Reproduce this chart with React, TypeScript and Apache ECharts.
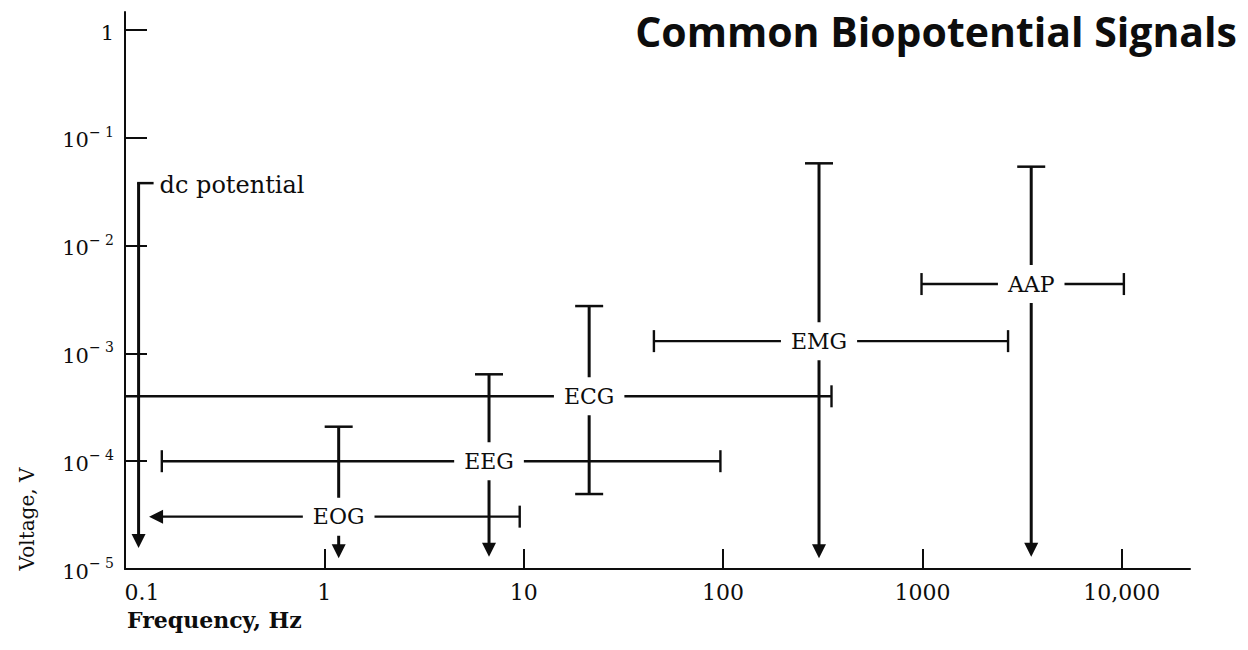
import React, { useEffect, useRef } from "react";
import * as echarts from "echarts";

// ---- data ----
const signalNames = ["dc potential", "EOG", "EEG", "ECG", "EMG", "AAP"];
// frequency (Hz) where the vertical voltage range is drawn
const freqCenter = [0.117, 1.18, 6.7, 21.3, 303, 3515];
// frequency range (Hz)
const freqLow = [0.117, 0.132, 0.153, 0.1, 45, 990];
const freqHigh = [0.117, 9.55, 97, 350, 2690, 10250];
// voltage (V) where the horizontal frequency range is drawn
const voltCenter = [0.038, 3.06e-5, 1.0e-4, 4.0e-4, 1.3e-3, 4.4e-3];
// voltage range (V)
const voltLow = [1.57e-5, 1.26e-5, 1.3e-5, 4.96e-5, 1.26e-5, 1.3e-5];
const voltHigh = [0.038, 2.09e-4, 6.4e-4, 2.75e-3, 0.058, 0.054];
// how each range ends: "arrow" = open-ended, "cap" = bounded, "none"
const voltLowEnd = ["arrow", "arrow", "arrow", "cap", "arrow", "arrow"];
const freqLowEnd = ["none", "arrow", "cap", "none", "cap", "cap"];

const xTickValues = [0.1, 1, 10, 100, 1000, 10000];
const xTickLabels = ["0.1", "1", "10", "100", "1000", "10,000"];
const yTickValues = [1e-5, 1e-4, 1e-3, 1e-2, 1e-1, 1];
const yTickExponents = [-5, -4, -3, -2, -1, 0];

const X_MIN = 0.1;
const X_MAX = 22000;
const Y_MIN = 1e-5;
const Y_MAX = 1.47;

const SERIF = "DejaVu Serif";
const INK = "#0d0d0d";

export default function App() {
  const ref = useRef<HTMLDivElement>(null);

  useEffect(() => {
    if (!ref.current) return;
    const chart = echarts.init(ref.current, null, { renderer: "svg" });

    const data = signalNames.map((_, i) => [
      freqCenter[i],
      voltCenter[i],
      freqLow[i],
      freqHigh[i],
      voltLow[i],
      voltHigh[i],
    ]);

    const renderItem = (params: any, api: any) => {
      const i = params.dataIndex;
      const fc = api.value(0);
      const vc = api.value(1);
      const [cx, cy] = api.coord([fc, vc]);
      const xL = api.coord([api.value(2), vc])[0];
      const xR = api.coord([api.value(3), vc])[0];
      const yB = api.coord([fc, api.value(4)])[1];
      const yT = api.coord([fc, api.value(5)])[1];
      const children: any[] = [];
      const AH = 14; // arrow head length
      const AW = 7; // arrow half width
      const lowEnd = voltLowEnd[i];

      // vertical (voltage) range
      children.push({
        type: "line",
        shape: { x1: cx, y1: yT, x2: cx, y2: lowEnd === "arrow" ? yB - AH + 2 : yB },
        style: { stroke: INK, lineWidth: 3 },
      });
      if (lowEnd === "arrow") {
        children.push({
          type: "polygon",
          shape: { points: [[cx - AW, yB - AH], [cx + AW, yB - AH], [cx, yB]] },
          style: { fill: INK },
        });
      } else {
        children.push({
          type: "line",
          shape: { x1: cx - 14, y1: yB, x2: cx + 14, y2: yB },
          style: { stroke: INK, lineWidth: 2.5 },
        });
      }

      if (i === 0) {
        // dc potential: hook at top plus label
        children.push({
          type: "line",
          shape: { x1: cx - 1.5, y1: yT, x2: cx + 15, y2: yT },
          style: { stroke: INK, lineWidth: 2.5 },
        });
        children.push({
          type: "text",
          x: cx + 21,
          y: yT + 2,
          style: {
            text: signalNames[i],
            fontFamily: SERIF,
            fontSize: 24,
            fill: INK,
            align: "left",
            verticalAlign: "middle",
          },
        });
        return { type: "group", children };
      }

      // top cap
      children.push({
        type: "line",
        shape: { x1: cx - 14, y1: yT, x2: cx + 14, y2: yT },
        style: { stroke: INK, lineWidth: 2.5 },
      });

      // horizontal (frequency) range
      const fEnd = freqLowEnd[i];
      children.push({
        type: "line",
        shape: { x1: fEnd === "arrow" ? xL + AH - 2 : xL, y1: cy, x2: xR, y2: cy },
        style: { stroke: INK, lineWidth: 2.4 },
      });
      if (fEnd === "arrow") {
        children.push({
          type: "polygon",
          shape: { points: [[xL, cy], [xL + AH, cy - AW], [xL + AH, cy + AW]] },
          style: { fill: INK },
        });
      } else if (fEnd === "cap") {
        children.push({
          type: "line",
          shape: { x1: xL, y1: cy - 11, x2: xL, y2: cy + 11 },
          style: { stroke: INK, lineWidth: 2.4 },
        });
      }
      children.push({
        type: "line",
        shape: { x1: xR, y1: cy - 11, x2: xR, y2: cy + 11 },
        style: { stroke: INK, lineWidth: 2.4 },
      });

      // label on the crossing
      children.push({
        type: "text",
        x: cx,
        y: cy,
        z2: 10,
        style: {
          text: signalNames[i],
          fontFamily: SERIF,
          fontSize: 22,
          fill: INK,
          align: "center",
          verticalAlign: "middle",
          backgroundColor: "#fff",
          padding: [8, 10],
        },
      });
      return { type: "group", children };
    };

    const option: any = {
      animation: false,
      backgroundColor: "#fff",
      title: {
        text: "Common Biopotential Signals",
        right: 6,
        top: 5,
        textStyle: {
          fontFamily: "Open Sans",
          fontWeight: "bold",
          fontSize: 41,
          color: INK,
        },
      },
      grid: { left: 125, right: 58, top: 12, bottom: 81 },
      xAxis: {
        type: "log",
        logBase: 10,
        min: X_MIN,
        max: X_MAX,
        splitLine: { show: false },
        axisLine: { lineStyle: { color: INK, width: 2 } },
        axisTick: {
          inside: true,
          length: 20,
          customValues: xTickValues,
          lineStyle: { color: INK, width: 2 },
        },
        axisLabel: {
          margin: 12,
          fontFamily: SERIF,
          fontSize: 22,
          color: INK,
          customValues: xTickValues,
          formatter: (v: number) => {
            const k = Math.round(Math.log10(v)) + 1;
            const t = xTickLabels[k] ?? "";
            return k === 0 ? `{p|${t}}` : t;
          },
          rich: {
            p: { fontFamily: SERIF, fontSize: 22, color: INK, padding: [0, 0, 0, 34] },
          },
        },
      },
      yAxis: {
        type: "log",
        logBase: 10,
        min: Y_MIN,
        max: Y_MAX,
        splitLine: { show: false },
        axisLine: { lineStyle: { color: INK, width: 2 } },
        axisTick: {
          inside: true,
          length: 22,
          customValues: yTickValues,
          lineStyle: { color: INK, width: 2 },
        },
        axisLabel: {
          margin: 11,
          color: INK,
          customValues: yTickValues,
          formatter: (v: number) => {
            const e = Math.round(Math.log10(v));
            if (!yTickExponents.includes(e)) return "";
            if (e === 0) return "{b|1}";
            return `{b|10}{s|− ${-e}}`;
          },
          rich: {
            b: { fontFamily: SERIF, fontSize: 21, color: INK, lineHeight: 26, verticalAlign: "bottom" },
            s: { fontFamily: SERIF, fontSize: 14, color: INK, lineHeight: 26, verticalAlign: "top" },
          },
        },
      },
      graphic: [
        {
          type: "text",
          x: 27,
          y: 519,
          rotation: Math.PI / 2,
          style: {
            text: "Voltage, V",
            fontFamily: SERIF,
            fontSize: 20,
            fill: INK,
            align: "center",
            verticalAlign: "middle",
          },
        },
        {
          type: "text",
          x: 127,
          y: 620,
          style: {
            text: "Frequency, Hz",
            fontFamily: SERIF,
            fontWeight: "bold",
            fontSize: 22,
            fill: INK,
            align: "left",
            verticalAlign: "middle",
          },
        },
      ],
      series: [
        {
          type: "custom",
          renderItem,
          data,
          encode: { x: 0, y: 1 },
          clip: false,
          z: 3,
        },
      ],
    };

    chart.setOption(option);
    return () => chart.dispose();
  }, []);

  return (
    <div
      ref={ref}
      style={{ position: "fixed", left: 0, top: 0, width: 1248, height: 650, background: "#fff" }}
    />
  );
}
